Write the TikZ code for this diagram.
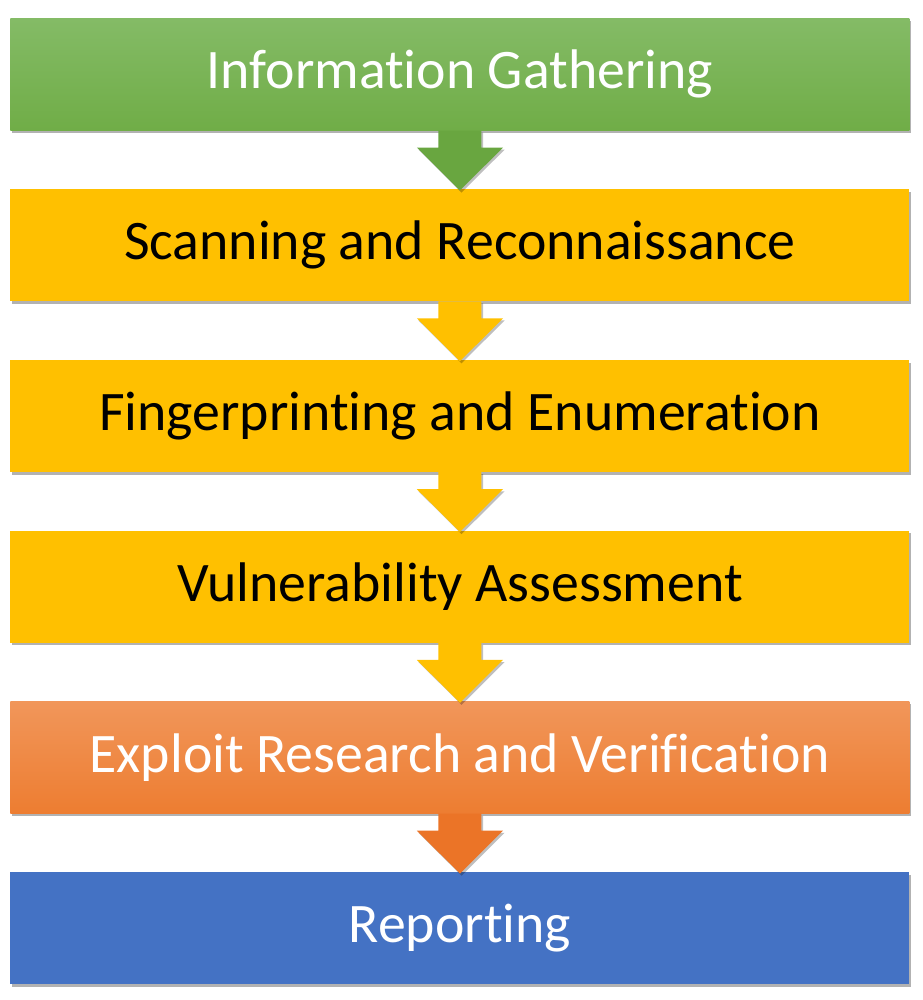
\documentclass[tikz,border=0pt]{standalone}
\usepackage{fontspec}
\setmainfont{Carlito}[Ligatures={NoCommon,NoContextual}]
\usetikzlibrary{positioning,calc,shadows}
\definecolor{phaseGreenTop}{HTML}{84BB66}
\definecolor{phaseGreen}{HTML}{70AD47}
\definecolor{phaseGreenArrow}{HTML}{69A640}
\definecolor{phaseYellow}{HTML}{FFC000}
\definecolor{phaseOrangeTop}{HTML}{F1965A}
\definecolor{phaseOrange}{HTML}{ED7D31}
\definecolor{phaseOrangeArrow}{HTML}{EB7427}
\definecolor{phaseBlue}{HTML}{4472C4}

\begin{document}
\begin{tikzpicture}[
  phase/.style={
    minimum width=23.79cm, minimum height=2.96cm,
    inner sep=0pt, align=center,
    font=\fontsize{42}{50}\selectfont,
    drop shadow={shadow xshift=1.2pt, shadow yshift=-2pt, opacity=0.3, fill=black}
  },
  node distance=1.545cm,
  flow/.style={drop shadow={shadow xshift=1.2pt, shadow yshift=-1.6pt, opacity=0.25, fill=black}}
]
\useasboundingbox (0,0) rectangle (24.42,-26.46);

% Phases, top to bottom
\node[phase, top color=phaseGreenTop, bottom color=phaseGreen, text=white, anchor=north] (gather) at (12.17,-0.48) {Information Gathering};
\node[phase, fill=phaseYellow, text=black, below=of gather] (scan) {Scanning and Reconnaissance};
\node[phase, fill=phaseYellow, text=black, below=of scan] (finger) {Fingerprinting and Enumeration};
\node[phase, fill=phaseYellow, text=black, below=of finger] (vuln) {Vulnerability Assessment};
\node[phase, top color=phaseOrangeTop, bottom color=phaseOrange, text=white, below=of vuln] (exploit) {Exploit Research and Verification};
\node[phase, fill=phaseBlue, text=white, below=of exploit] (report) {Reporting};

% Block arrows between phases
\newcommand{\phasearrow}[3]{%
  \fill[flow, #3] ($(#1.south)+(-0.57,0)$) -- ++(0,-0.45) -- ++(-0.57,0)
    -- ($(#2.north)+(0,-0.04)$) -- ($(#1.south)+(1.14,-0.45)$) -- ++(-0.57,0)
    -- ++(0,0.45) -- cycle;}
\phasearrow{gather}{scan}{phaseGreenArrow}
\phasearrow{scan}{finger}{phaseYellow}
\phasearrow{finger}{vuln}{phaseYellow}
\phasearrow{vuln}{exploit}{phaseYellow}
\phasearrow{exploit}{report}{phaseOrangeArrow}

\end{tikzpicture}
\end{document}
